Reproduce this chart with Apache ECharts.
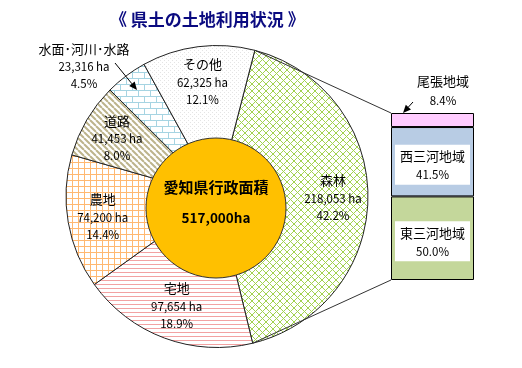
<!DOCTYPE html>
<html><head><meta charset="utf-8">
<script src="https://cdn.jsdelivr.net/npm/echarts@6/dist/echarts.min.js"></script>
<style>html,body{margin:0;padding:0;background:#fff}#c{width:522px;height:368px}</style>
</head><body><div id="c"></div>
<script>
// ---- data ----
const titleText = '《 県土の土地利用状況 》';
const landNames = ['森林', '宅地', '農地', '道路', '水面･河川･水路', 'その他'];
const landValues = [218053, 97654, 74200, 41453, 23316, 62325];
const landPct = [42.2, 18.9, 14.4, 8.0, 4.5, 12.1];
const totalName = '愛知県行政面積';
const totalValue = [517000];
const regionNames = ['東三河地域', '西三河地域', '尾張地域'];
const regionPct = [50.0, 41.5, 8.4];

// ---- layout / style ----
const FONT = '"Noto Sans CJK JP", "Noto Sans", sans-serif';
const CX = 217, CY = 196.5, R = 151, START = 75.5;
const GL = 391, GT = 113, GW = 83, GH = 167;

function pat(w, h, draw) {
  const c = document.createElement('canvas');
  c.width = w; c.height = h;
  const g = c.getContext('2d');
  g.fillStyle = '#fff'; g.fillRect(0, 0, w, h);
  draw(g);
  return { image: c, repeat: 'repeat' };
}
const patterns = [
  pat(7, 7, g => { g.strokeStyle = '#A2D250'; g.lineWidth = 1; g.beginPath(); g.moveTo(0, 0); g.lineTo(7, 7); g.moveTo(7, 0); g.lineTo(0, 7); g.stroke(); }),
  pat(4, 4, g => { g.fillStyle = '#F2A2A2'; g.fillRect(0, 0, 4, 1); }),
  pat(6, 6, g => { g.fillStyle = '#FFB870'; g.fillRect(0, 0, 6, 1); g.fillRect(0, 0, 1, 6); }),
  pat(6, 6, g => { g.strokeStyle = '#BDB48C'; g.lineWidth = 2; g.beginPath(); for (let k = -6; k <= 12; k += 6) { g.moveTo(k, 0); g.lineTo(k + 6, 6); } g.stroke(); }),
  pat(12, 12, g => { g.fillStyle = '#A6D4E2'; g.fillRect(0, 0, 12, 1); g.fillRect(0, 6, 12, 1); g.fillRect(0, 0, 1, 6); g.fillRect(6, 6, 1, 6); }),
  pat(4, 4, g => { g.fillStyle = '#E4E4E4'; g.fillRect(0, 0, 1, 1); g.fillRect(2, 2, 1, 1); })
];

function fmt(v) { return v.toString().replace(/\B(?=(\d{3})+(?!\d))/g, ','); }
const total = landValues.reduce((a, b) => a + b, 0);

// connector lines from forest slice edges to bar
function arcPt(cum) {
  const th = (START - cum / total * 360) * Math.PI / 180;
  return [CX + R * Math.cos(th), CY - R * Math.sin(th)];
}
const pA = arcPt(0), pB = arcPt(landValues[0]);

function arrow(x1, y1, x2, y2) {
  const a = Math.atan2(y2 - y1, x2 - x1), L = 8, W = 3.5;
  const bx = x2 - L * Math.cos(a), by = y2 - L * Math.sin(a);
  return [
    { type: 'line', shape: { x1: x1, y1: y1, x2: bx, y2: by }, style: { stroke: '#000', lineWidth: 1 }, z: 20 },
    { type: 'polygon', shape: { points: [[x2, y2], [bx + W * Math.sin(a), by - W * Math.cos(a)], [bx - W * Math.sin(a), by + W * Math.cos(a)]] }, style: { fill: '#000' }, z: 20 }
  ];
}

const chart = echarts.init(document.getElementById('c'), null, { renderer: 'canvas' });
const regColors = ['#C4D79B', '#B8CCE4', '#FFCCFF'];

chart.setOption({
  animation: false,
  backgroundColor: '#fff',
  textStyle: { fontFamily: FONT },
  title: {
    text: titleText, left: 105, top: 6,
    textStyle: { fontSize: 17, fontWeight: 'bold', color: '#0A0A80', fontFamily: FONT }
  },
  grid: { left: GL, top: GT, width: GW, height: GH },
  xAxis: { type: 'category', data: ['地域'], show: false },
  yAxis: { type: 'value', min: 0, max: regionPct.reduce((a, b) => a + b, 0), show: false },
  series: [
    {
      type: 'pie', center: [CX, CY], radius: [0, R], startAngle: START, clockwise: true, silent: true,
      itemStyle: { borderColor: '#222', borderWidth: 1 },
      label: { show: false }, labelLine: { show: false },
      data: landNames.map((n, i) => ({ name: n, value: landValues[i], itemStyle: { color: patterns[i] } }))
    },
    {
      type: 'pie', center: [CX, CY], radius: [95, 131], startAngle: START, clockwise: true, silent: true, z: 5,
      itemStyle: { color: 'rgba(0,0,0,0)', borderWidth: 0 },
      labelLine: { show: false },
      label: {
        show: true, position: 'inside', color: '#000',
        formatter: p => '{n|' + p.name + '}\n{v|' + fmt(landValues[p.dataIndex]) + ' ha}\n{v|' + landPct[p.dataIndex].toFixed(1) + '%}',
        rich: {
          n: { fontSize: 13, lineHeight: 19, fontFamily: FONT, color: '#000' },
          v: { fontSize: 11.5, lineHeight: 17, fontFamily: FONT, color: '#000' }
        }
      },
      labelLayout: p => p.dataIndex === 4 ? { x: 84, y: 66, align: 'center', verticalAlign: 'middle' } : null,
      data: landNames.map((n, i) => ({ name: n, value: landValues[i] }))
    },
    {
      type: 'pie', center: [216, 208], radius: [0, 70], silent: true, z: 6,
      itemStyle: { color: '#FFC000', borderColor: '#333', borderWidth: 1 },
      labelLine: { show: false },
      label: {
        show: true, position: 'center', padding: [0, 0, 11, 0],
        formatter: p => '{a|' + p.name + '}\n{b|' + fmt(p.value) + 'ha}',
        rich: {
          a: { fontSize: 15, fontWeight: 'bold', lineHeight: 31, color: '#000', fontFamily: FONT },
          b: { fontSize: 13.5, fontWeight: 'bold', lineHeight: 31, color: '#000', fontFamily: FONT }
        }
      },
      data: [{ name: totalName, value: totalValue[0] }]
    }
  ].concat(regionNames.map((n, i) => ({
    type: 'bar', stack: 'r', name: n, barWidth: '100%', silent: true,
    itemStyle: { color: regColors[i], borderColor: '#000', borderWidth: 1 },
    label: i < 2 ? {
      show: true, position: 'inside', offset: [0, 3],
      backgroundColor: '#fff', padding: [2, 5, 1, 5],
      formatter: p => '{n|' + n + '}\n{v|' + regionPct[i].toFixed(1) + '%}',
      rich: { n: { fontSize: 13, lineHeight: 19, color: '#000', fontFamily: FONT }, v: { fontSize: 11.5, lineHeight: 18, color: '#000', fontFamily: FONT } }
    } : {
      show: true, position: 'top', distance: 3, offset: [10.5, 0],
      formatter: p => '{n|' + n + '}\n{v|' + regionPct[i].toFixed(1) + '%}',
      rich: { n: { fontSize: 13, lineHeight: 19, color: '#000', fontFamily: FONT }, v: { fontSize: 11.5, lineHeight: 19, color: '#000', fontFamily: FONT } }
    },
    data: [regionPct[i]]
  }))),
  graphic: [
    { type: 'line', shape: { x1: pA[0], y1: pA[1], x2: GL, y2: GT }, style: { stroke: '#333', lineWidth: 1 }, z: 10 },
    { type: 'line', shape: { x1: pB[0], y1: pB[1], x2: GL, y2: GT + GH }, style: { stroke: '#333', lineWidth: 1 }, z: 10 }
  ].concat(arrow(115, 63, 137, 90)).concat(arrow(413, 102, 403, 113))
});
</script></body></html>
